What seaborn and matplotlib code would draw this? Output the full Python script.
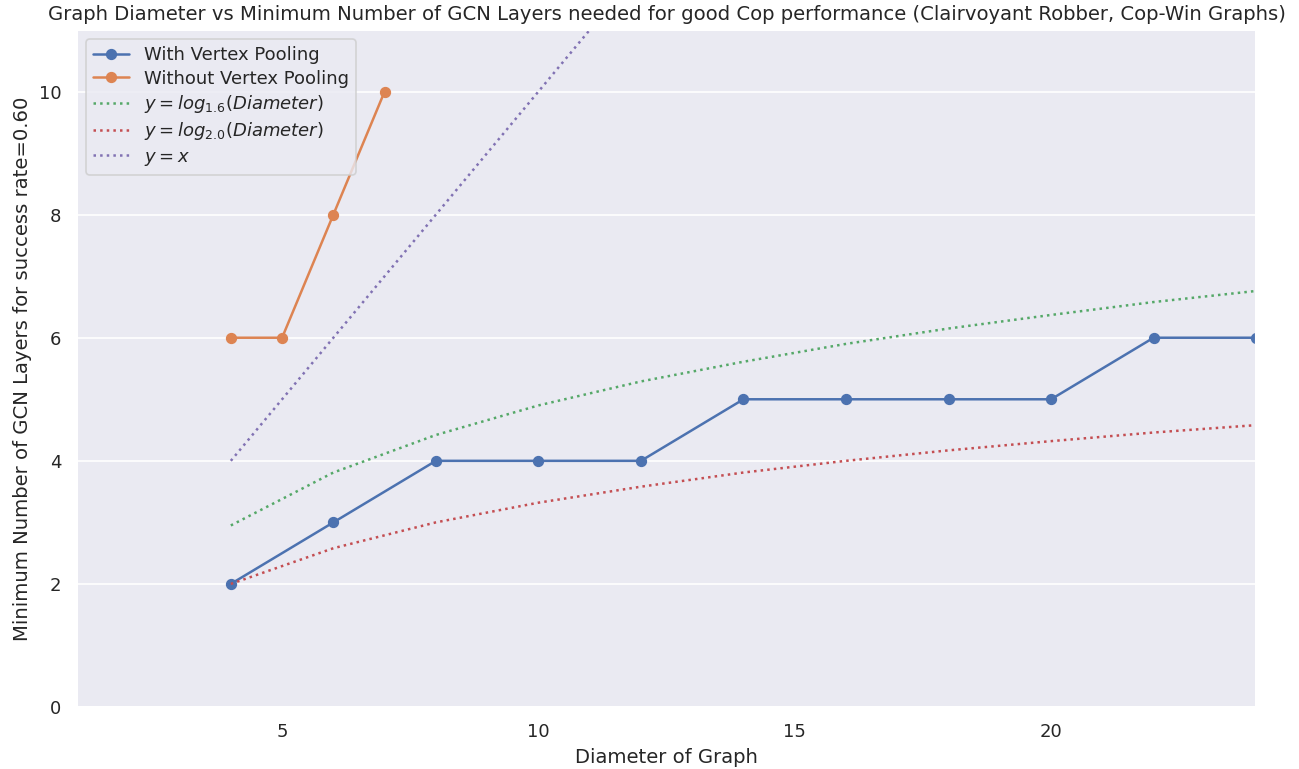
import matplotlib
matplotlib.use("Agg")
import matplotlib.pyplot as plt
import seaborn as sns
import pandas as pd

diameters_pool = [4, 6, 8, 10, 12, 14, 16, 18, 20, 22, 24]
layers_pool = [2, 3, 4, 4, 4, 5, 5, 5, 5, 6, 6]

diameters_nopool = [4, 5, 6, 7]
layers_nopool = [6, 6, 8, 10]

ref_x = [4, 6, 8, 10, 12, 14, 16, 18, 20, 22, 24]
log16_y = [2.95, 3.81, 4.42, 4.90, 5.29, 5.61, 5.90, 6.15, 6.37, 6.58, 6.76]
log20_y = [2.00, 2.58, 3.00, 3.32, 3.58, 3.81, 4.00, 4.17, 4.32, 4.46, 4.58]
identity_y = [4, 6, 8, 10, 12, 14, 16, 18, 20, 22, 24]

sns.set_theme(style="darkgrid", context="notebook", font_scale=0.98)
pal = sns.color_palette("deep")

fig, ax = plt.subplots(figsize=(1299 / 120, 769 / 120), dpi=120)
fig.subplots_adjust(left=0.0593, right=0.967, top=0.961, bottom=0.0806)

sns.lineplot(x=diameters_pool, y=layers_pool, marker="o", color=pal[0],
             label="With Vertex Pooling", ax=ax, markeredgecolor=pal[0])
sns.lineplot(x=diameters_nopool, y=layers_nopool, marker="o", color=pal[1],
             label="Without Vertex Pooling", ax=ax, markeredgecolor=pal[1])
sns.lineplot(x=ref_x, y=log16_y, color=pal[2], linestyle=":",
             label=r"$y = log_{1.6}(Diameter)$", ax=ax)
sns.lineplot(x=ref_x, y=log20_y, color=pal[3], linestyle=":",
             label=r"$y = log_{2.0}(Diameter)$", ax=ax)
sns.lineplot(x=ref_x, y=identity_y, color=pal[4], linestyle=":",
             label=r"$y = x$", ax=ax)

ax.set_xlim(1, 24)
ax.set_ylim(0, 11)
ax.set_xticks([5, 10, 15, 20])
ax.set_yticks([0, 2, 4, 6, 8, 10])
ax.xaxis.grid(False)
ax.set_xlabel("Diameter of Graph")
ax.set_ylabel("Minimum Number of GCN Layers for success rate=0.60")
ax.set_title("Graph Diameter vs Minimum Number of GCN Layers needed for good Cop performance (Clairvoyant Robber, Cop-Win Graphs)")
ax.legend(loc="upper left", labelspacing=0.3)

fig.savefig("out.png", dpi=120)
